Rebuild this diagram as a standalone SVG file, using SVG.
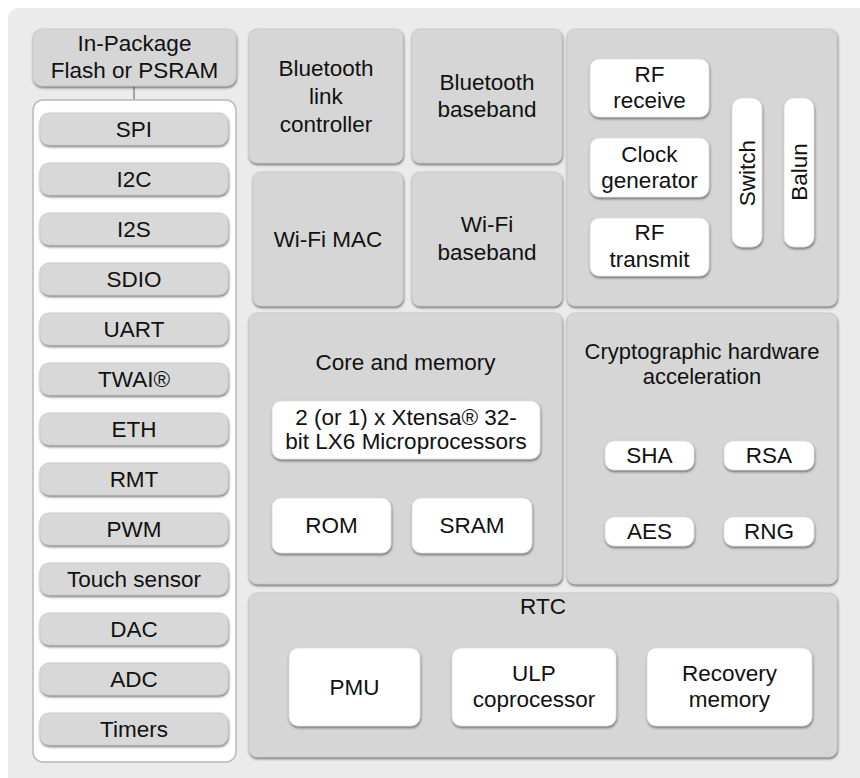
<svg xmlns="http://www.w3.org/2000/svg" width="860" height="778" viewBox="0 0 860 778">
<defs>
<filter id="sh" x="-10%" y="-10%" width="120%" height="130%">
<feDropShadow dx="0.5" dy="1.6" stdDeviation="0.8" flood-color="#444" flood-opacity="0.75"/>
</filter>
<style>
.panel{fill:#d6d6d6;stroke:#c8c8c8;stroke-width:0.8;filter:url(#sh)}
.iface{fill:#d8d8d8;stroke:#c8c8c8;stroke-width:0.8;filter:url(#sh)}
.wbox{fill:#ffffff;stroke:#e0e0e0;stroke-width:0.8;filter:url(#sh)}
.outer{fill:#ffffff;stroke:#b9b9b9;stroke-width:1.5}
text{font-family:"Liberation Sans",Arial,Helvetica,sans-serif;font-size:22.5px;fill:#111;text-anchor:middle}
.tight{font-size:22px}
.conn{stroke:#8a8a8a;stroke-width:1.5;fill:none}
</style>
</defs>
<rect x="8" y="8" width="880" height="800" rx="11" fill="#ebebeb"/>

<g id="connectors">
<line class="conn" x1="134" y1="86" x2="134" y2="113"/>
</g>

<g id="flash">
<rect class="panel" x="33" y="29" width="203" height="57" rx="9"/>
<text x="134.5" y="51">In-Package</text>
<text x="134.5" y="78">Flash or PSRAM</text>
</g>

<g id="interfaces">
<rect class="outer" x="33" y="100" width="203" height="662" rx="10"/>
<g id="spi"><rect class="iface" x="40" y="113" width="188" height="32" rx="9"/><text x="134" y="137">SPI</text></g>
<g id="i2c"><rect class="iface" x="40" y="163" width="188" height="32" rx="9"/><text x="134" y="187">I2C</text></g>
<g id="i2s"><rect class="iface" x="40" y="213" width="188" height="32" rx="9"/><text x="134" y="237">I2S</text></g>
<g id="sdio"><rect class="iface" x="40" y="263" width="188" height="32" rx="9"/><text x="134" y="287">SDIO</text></g>
<g id="uart"><rect class="iface" x="40" y="313" width="188" height="32" rx="9"/><text x="134" y="337">UART</text></g>
<g id="twai"><rect class="iface" x="40" y="363" width="188" height="32" rx="9"/><text x="134" y="387">TWAI®</text></g>
<g id="eth"><rect class="iface" x="40" y="413" width="188" height="32" rx="9"/><text x="134" y="437">ETH</text></g>
<g id="rmt"><rect class="iface" x="40" y="463" width="188" height="32" rx="9"/><text x="134" y="487">RMT</text></g>
<g id="pwm"><rect class="iface" x="40" y="513" width="188" height="32" rx="9"/><text x="134" y="537">PWM</text></g>
<g id="touch"><rect class="iface" x="40" y="563" width="188" height="32" rx="9"/><text x="134" y="587">Touch sensor</text></g>
<g id="dac"><rect class="iface" x="40" y="613" width="188" height="32" rx="9"/><text x="134" y="637">DAC</text></g>
<g id="adc"><rect class="iface" x="40" y="663" width="188" height="32" rx="9"/><text x="134" y="687">ADC</text></g>
<g id="timers"><rect class="iface" x="40" y="713" width="188" height="32" rx="9"/><text x="134" y="737">Timers</text></g>
</g>

<g id="btlink">
<rect class="panel" x="249" y="29" width="154" height="134" rx="8"/>
<text x="326" y="76">Bluetooth</text>
<text x="326" y="104">link</text>
<text x="326" y="132">controller</text>
</g>

<g id="btbase">
<rect class="panel" x="412" y="29" width="150" height="134" rx="8"/>
<text x="487" y="90">Bluetooth</text>
<text x="487" y="117">baseband</text>
</g>

<g id="wifimac">
<rect class="panel" x="253" y="172" width="150" height="134" rx="8"/>
<text x="328" y="247">Wi-Fi MAC</text>
</g>

<g id="wifibase">
<rect class="panel" x="412" y="172" width="150" height="134" rx="8"/>
<text x="487" y="232">Wi-Fi</text>
<text x="487" y="260">baseband</text>
</g>

<g id="rf">
<rect class="panel" x="567" y="29" width="270" height="277" rx="8"/>
<g id="rfrx"><rect class="wbox" x="590" y="59" width="119" height="58" rx="9"/>
<text x="649.5" y="82">RF</text><text x="649.5" y="108">receive</text></g>
<g id="clk"><rect class="wbox" x="590" y="138" width="119" height="59" rx="9"/>
<text x="649.5" y="162">Clock</text><text x="649.5" y="188">generator</text></g>
<g id="rftx"><rect class="wbox" x="590" y="218" width="119" height="58" rx="9"/>
<text x="649.5" y="240">RF</text><text x="649.5" y="267">transmit</text></g>
<g id="switch"><rect class="wbox" x="732" y="98" width="30" height="149" rx="10"/>
<text transform="translate(755,173) rotate(-90)" x="0" y="0">Switch</text></g>
<g id="balun"><rect class="wbox" x="784" y="98" width="30" height="149" rx="10"/>
<text transform="translate(807,172) rotate(-90)" x="0" y="0">Balun</text></g>
</g>

<g id="core">
<rect class="panel" x="249" y="313" width="313" height="271" rx="8"/>
<text x="405.5" y="370">Core and memory</text>
<g id="cpu"><rect class="wbox" x="272" y="401" width="268" height="58" rx="9"/>
<text x="406" y="425">2 (or 1) x Xtensa® 32-</text>
<text x="406" y="449">bit LX6 Microprocessors</text></g>
<g id="rom"><rect class="wbox" x="272" y="498" width="119" height="55" rx="9"/><text x="331.5" y="533">ROM</text></g>
<g id="sram"><rect class="wbox" x="412" y="498" width="120" height="55" rx="9"/><text x="472" y="533">SRAM</text></g>
</g>

<g id="crypto">
<rect class="panel" x="567" y="313" width="270" height="271" rx="8"/>
<text class="tight" x="702" y="359">Cryptographic hardware</text>
<text class="tight" x="702" y="384">acceleration</text>
<g id="sha"><rect class="wbox" x="605" y="441" width="89" height="29" rx="9"/><text x="649.5" y="463">SHA</text></g>
<g id="rsa"><rect class="wbox" x="724" y="441" width="90" height="29" rx="9"/><text x="769" y="463">RSA</text></g>
<g id="aes"><rect class="wbox" x="605" y="517" width="89" height="29" rx="9"/><text x="649.5" y="539">AES</text></g>
<g id="rng"><rect class="wbox" x="724" y="517" width="90" height="29" rx="9"/><text x="769" y="539">RNG</text></g>
</g>

<g id="rtc">
<rect class="panel" x="249" y="593" width="588" height="164" rx="8"/>
<text x="543" y="614">RTC</text>
<g id="pmu"><rect class="wbox" x="289" y="648" width="131" height="78" rx="9"/><text x="354.5" y="695">PMU</text></g>
<g id="ulp"><rect class="wbox" x="452" y="648" width="164" height="78" rx="9"/>
<text x="534" y="681">ULP</text><text x="534" y="707">coprocessor</text></g>
<g id="recovery"><rect class="wbox" x="647" y="648" width="165" height="78" rx="9"/>
<text x="729.5" y="681">Recovery</text><text x="729.5" y="707">memory</text></g>
</g>
</svg>
